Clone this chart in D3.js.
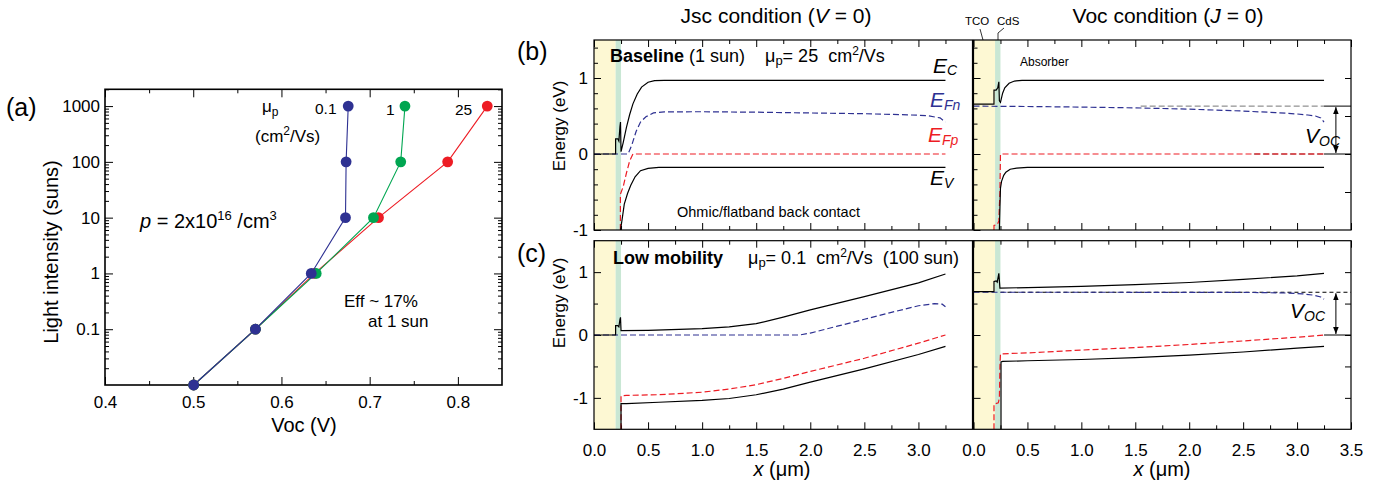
<!DOCTYPE html>
<html>
<head>
<meta charset="utf-8">
<script src="https://cdn.jsdelivr.net/npm/d3@7"></script>
<style>
body { margin: 0; background: #ffffff; }
svg { font-family: "Liberation Sans", Arial, Helvetica, sans-serif; }
text { white-space: pre; }
</style>
</head>
<body>
<svg id="fig" width="1387" height="487"></svg>
<script>
// ---- (a) Voc vs light intensity, three hole mobilities ----
var intensity = [0.01, 0.1, 1, 10, 100, 1000];
var vocMu25 = [0.5005, 0.5705, 0.6376, 0.710, 0.7884, 0.8333];
var vocMu1 = [0.5005, 0.5705, 0.6394, 0.7043, 0.7352, 0.740];
var vocMu01 = [0.5005, 0.5705, 0.6338, 0.6726, 0.6733, 0.6757];
var muNames = ['25', '1', '0.1'];
var vocTicks = [0.4, 0.5, 0.6, 0.7, 0.8];
var intensityTicks = [0.1, 1, 10, 100, 1000];

// ---- (b),(c) band diagrams: [x (um), E (eV)] ----
var layerNames = ['TCO', 'CdS'];
var layerEdges = [0, 0.2, 0.25];

// (b) baseline, 1 sun, Jsc
var ecBaseJsc = [[0, 0], [0.2, 0], [0.2, 0.2], [0.22, 0.2], [0.23, 0.17], [0.24, 0.36], [0.245, 0.42], [0.25, 0.03],
  [0.27, 0.15], [0.3, 0.35], [0.33, 0.52], [0.36, 0.66], [0.4, 0.79], [0.44, 0.88], [0.5, 0.945], [0.56, 0.965], [0.65, 0.97], [3.25, 0.97]];
var evBaseJsc = [[0.245, -1.0], [0.26, -0.86], [0.28, -0.66], [0.31, -0.52], [0.34, -0.41], [0.38, -0.3], [0.43, -0.22],
  [0.5, -0.19], [0.6, -0.177], [3.25, -0.177]];
var efnBaseJsc = [[0, 0], [0.315, 0], [0.35, 0.12], [0.39, 0.3], [0.43, 0.42], [0.48, 0.49], [0.55, 0.54], [0.65, 0.555],
  [1.0, 0.556], [1.5, 0.55], [2.0, 0.54], [2.5, 0.53], [2.9, 0.515], [3.08, 0.505], [3.2, 0.475], [3.25, 0.42]];
var efpBaseJsc = [[0.244, -1.0], [0.244, -0.53], [0.27, -0.43], [0.3, -0.25], [0.33, -0.09], [0.36, 0], [3.25, 0]];

// (b) baseline, 1 sun, Voc
var ecBaseVoc = [[0, 0.655], [0.19, 0.655], [0.19, 0.84], [0.21, 0.84], [0.225, 0.87], [0.235, 0.95], [0.24, 0.70],
  [0.25, 0.68], [0.27, 0.8], [0.29, 0.87], [0.33, 0.93], [0.38, 0.96], [0.45, 0.97], [3.25, 0.97]];
var evBaseVoc = [[0.24, -1.0], [0.245, -0.7], [0.25, -0.45], [0.26, -0.36], [0.28, -0.28], [0.3, -0.24], [0.34, -0.2],
  [0.4, -0.185], [0.5, -0.177], [3.25, -0.177]];
var efnBaseVoc = [[0, 0.63], [0.5, 0.625], [1.0, 0.617], [1.5, 0.607], [2.0, 0.59], [2.5, 0.565], [2.8, 0.545],
  [3.0, 0.527], [3.1, 0.513], [3.17, 0.5], [3.22, 0.475], [3.25, 0.42]];
var efpBaseVoc = [[0.19, -1.0], [0.19, -0.94], [0.22, -0.93], [0.235, -0.88], [0.245, -0.5], [0.25, 0], [3.25, 0]];

// (c) low mobility, 100 sun, Jsc
var ecLowJsc = [[0, 0], [0.2, 0], [0.2, 0.15], [0.22, 0.15], [0.23, 0.13], [0.24, 0.25], [0.245, 0.28], [0.25, 0.07],
  [0.5, 0.075], [1.0, 0.1], [1.25, 0.13], [1.5, 0.18], [1.75, 0.285], [2.0, 0.4], [2.5, 0.61], [3.0, 0.83], [3.25, 0.97]];
var evLowJsc = [[0.25, -1.5], [0.25, -1.09], [0.3, -1.09], [0.6, -1.07], [1.0, -1.04], [1.25, -1.01], [1.5, -0.95],
  [1.75, -0.86], [2.0, -0.75], [2.5, -0.54], [3.0, -0.31], [3.25, -0.18]];
var efnLowJsc = [[0, 0], [1.9, 0], [2.0, 0.03], [2.25, 0.14], [2.5, 0.25], [2.75, 0.36], [3.0, 0.465], [3.15, 0.5],
  [3.22, 0.49], [3.25, 0.45]];
var efpLowJsc = [[0.25, -1.5], [0.25, -0.97], [0.3, -0.96], [0.6, -0.95], [1.0, -0.91], [1.25, -0.86], [1.5, -0.79],
  [1.75, -0.69], [2.0, -0.58], [2.5, -0.37], [3.0, -0.13], [3.25, 0]];

// (c) low mobility, 100 sun, Voc
var ecLowVoc = [[0, 0.69], [0.19, 0.69], [0.19, 0.85], [0.21, 0.86], [0.22, 0.84], [0.235, 0.98], [0.245, 0.745],
  [0.5, 0.755], [1.0, 0.775], [1.5, 0.8], [2.0, 0.835], [2.5, 0.885], [3.0, 0.94], [3.25, 0.98]];
var evLowVoc = [[0.255, -1.5], [0.255, -0.43], [0.27, -0.42], [0.5, -0.41], [1.0, -0.39], [1.5, -0.36], [2.0, -0.32],
  [2.5, -0.27], [3.0, -0.21], [3.25, -0.18]];
var efnLowVoc = [[0, 0.68], [1.0, 0.68], [2.0, 0.679], [2.6, 0.676], [2.9, 0.668], [3.05, 0.655], [3.15, 0.635],
  [3.22, 0.605], [3.25, 0.57]];
var efpLowVoc = [[0.19, -1.5], [0.19, -1.1], [0.23, -1.08], [0.24, -1.0], [0.245, -0.5], [0.25, -0.3], [0.5, -0.285],
  [1.0, -0.24], [1.5, -0.2], [2.0, -0.15], [2.5, -0.095], [3.0, -0.035], [3.25, 0]];

var vocLevels = [0.63, 0.68]; // quasi-Fermi splitting at the TCO, (b) and (c)

var BLUE = '#2e3192', RED = '#ed1c24', GREEN = '#00a651';
var layerFill = { TCO: '#fdf8d3', CdS: '#c9e7d4' };

var svg = d3.select('#fig');

// Arrow heads for the Voc markers
var defs = svg.append('defs');
defs.append('marker').attr('id', 'arr')
    .attr('viewBox', '0 0 10 10').attr('refX', 10).attr('refY', 5)
    .attr('markerWidth', 7).attr('markerHeight', 7).attr('markerUnits', 'userSpaceOnUse')
    .attr('orient', 'auto-start-reverse')
  .append('path').attr('d', 'M0,1 L10,5 L0,9 Z').attr('fill', '#000');

// text with tspans: parts = [{t, i, b, size, fill, shift}]
function rich(parent, x, y, size, parts, anchor) {
    var t = parent.append('text').attr('x', x).attr('y', y)
        .attr('font-size', size).attr('text-anchor', anchor || 'start');
    var shift = 0;
    parts.forEach(function(p) {
        var s = p.shift || 0;
        var ts = t.append('tspan').text(p.t).attr('dy', s - shift);
        shift = s;
        if (p.i) ts.attr('font-style', 'italic');
        if (p.b) ts.attr('font-weight', 'bold');
        if (p.size) ts.attr('font-size', p.size);
        if (p.fill) ts.attr('fill', p.fill);
    });
    return t;
}

function styleTicks(g, size) {
    g.select('.domain').remove();
    g.selectAll('line').attr('stroke', '#000').attr('stroke-width', 1);
    g.selectAll('text').attr('font-size', size).attr('fill', '#000')
        .attr('font-family', '"Liberation Sans", Arial, sans-serif');
}

// ================= panel (a) =================
(function() {
    var left = 105, right = 502, top = 89.3, bottom = 385;
    var x = d3.scaleLinear().domain([0.4, 0.85]).range([left, right]),
        y = d3.scaleLog().domain([0.01, 2000]).range([bottom, top]);
    var g = svg.append('g');

    var xMinor = d3.range(0, 4).map(function(i) { return 0.45 + i * 0.1; });
    var yMinor = [];
    [0.01, 0.1, 1, 10, 100, 1000].forEach(function(d) {
        for (var k = 2; k <= 9; k++) if (d * k <= 2000) yMinor.push(d * k);
    });
    var fmtX = d3.format('.1f'), fmtY = d3.format('~g');

    g.append('g').attr('transform', 'translate(0,' + bottom + ')')
        .call(d3.axisBottom(x).tickValues(vocTicks).tickSize(-8).tickPadding(11).tickFormat(fmtX))
        .call(styleTicks, 17);
    g.append('g').attr('transform', 'translate(0,' + bottom + ')')
        .call(d3.axisBottom(x).tickValues(xMinor).tickSize(-4).tickFormat(''))
        .call(styleTicks, 17);
    g.append('g').attr('transform', 'translate(0,' + top + ')')
        .call(d3.axisTop(x).tickValues(xMinor).tickSize(-4).tickFormat(''))
        .call(styleTicks, 17);
    g.append('g').attr('transform', 'translate(0,' + top + ')')
        .call(d3.axisTop(x).tickValues(vocTicks).tickSize(-8).tickFormat(''))
        .call(styleTicks, 17);
    g.append('g').attr('transform', 'translate(' + left + ',0)')
        .call(d3.axisLeft(y).tickValues(intensityTicks).tickSize(-8).tickPadding(5).tickFormat(fmtY))
        .call(styleTicks, 17);
    g.append('g').attr('transform', 'translate(' + left + ',0)')
        .call(d3.axisLeft(y).tickValues(yMinor).tickSize(-4).tickFormat(''))
        .call(styleTicks, 17);
    g.append('g').attr('transform', 'translate(' + right + ',0)')
        .call(d3.axisRight(y).tickValues(intensityTicks).tickSize(-8).tickFormat(''))
        .call(styleTicks, 17);
    g.append('g').attr('transform', 'translate(' + right + ',0)')
        .call(d3.axisRight(y).tickValues(yMinor).tickSize(-4).tickFormat(''))
        .call(styleTicks, 17);

    g.append('rect').attr('x', left).attr('y', top)
        .attr('width', right - left).attr('height', bottom - top)
        .attr('fill', 'none').attr('stroke', '#000').attr('stroke-width', 1.6);

    var series = [
        { name: muNames[0], voc: vocMu25, color: RED },
        { name: muNames[1], voc: vocMu1, color: GREEN },
        { name: muNames[2], voc: vocMu01, color: BLUE }
    ];
    var line = d3.line().x(function(d) { return x(d[0]); }).y(function(d) { return y(d[1]); });
    series.forEach(function(s) {
        var pts = d3.zip(s.voc, intensity);
        g.append('path').datum(pts).attr('d', line)
            .attr('fill', 'none').attr('stroke', s.color).attr('stroke-width', 1.1);
        g.selectAll(null).data(pts).enter().append('circle')
            .attr('cx', function(d) { return x(d[0]); })
            .attr('cy', function(d) { return y(d[1]); })
            .attr('r', 5.4).attr('fill', s.color);
    });

    // series labels above the top points
    rich(g, 262, 112, 17, [{ t: '\u03bc' }, { t: 'p', size: 12, shift: 4 }]);
    rich(g, 255, 142, 17, [{ t: '(cm' }, { t: '2', size: 12, shift: -7 }, { t: '/Vs)', shift: 0 }]);
    rich(g, 315, 114, 15.5, [{ t: muNames[2] }]);
    rich(g, 386, 115, 15.5, [{ t: muNames[1] }]);
    rich(g, 455, 115, 15.5, [{ t: muNames[0] }]);

    rich(g, 140, 228, 20, [{ t: 'p', i: true }, { t: ' = 2x10' }, { t: '16', size: 13, shift: -8 },
        { t: ' /cm', shift: 0 }, { t: '3', size: 13, shift: -8 }]);
    rich(g, 344, 307, 17, [{ t: 'Eff ~ 17%' }]);
    rich(g, 368, 327, 17, [{ t: 'at 1 sun' }]);

    rich(g, 304, 432, 20, [{ t: 'Voc (V)' }], 'middle');
    rich(g, 0, 0, 20, [{ t: 'Light intensity (suns)' }], 'middle')
        .attr('transform', 'translate(58,252) rotate(-90)');
    rich(g, 6, 116, 25, [{ t: '(a)' }]);
}());

// ================= panels (b), (c) =================
function drawBand(p) {
    var x = d3.scaleLinear().domain([0, 3.5]).range([p.left, p.right]),
        y = d3.scaleLinear().domain(p.eDomain).range([p.bottom, p.top]);
    var g = svg.append('g');
    var clipId = 'clip' + Math.round(p.left) + Math.round(p.top);
    defs.append('clipPath').attr('id', clipId).append('rect')
        .attr('x', p.left).attr('y', p.top)
        .attr('width', p.right - p.left).attr('height', p.bottom - p.top);

    // TCO / CdS shading
    g.selectAll(null).data(layerNames).enter().append('rect')
        .attr('x', function(d, i) { return x(layerEdges[i]); })
        .attr('width', function(d, i) { return x(layerEdges[i + 1]) - x(layerEdges[i]); })
        .attr('y', p.top).attr('height', p.bottom - p.top)
        .attr('fill', function(d) { return layerFill[d]; });

    var fmtX = d3.format('.1f');
    var xMajor = d3.range(0, 8).map(function(i) { return i * 0.5; }),
        xMinor = d3.range(0, 7).map(function(i) { return 0.25 + i * 0.5; });
    var yMajor = [-1, 0, 1];
    var yMinor = d3.range(-40, 41).map(function(i) { return i * p.yMinorStep; })
        .filter(function(v) {
            return v > p.eDomain[0] + 1e-6 && v < p.eDomain[1] - 1e-6 && Math.abs(v - Math.round(v)) > 1e-6;
        });
    var xLabelVals = p.lastLabel ? xMajor : xMajor.slice(0, 7);

    var bx = g.append('g').attr('transform', 'translate(0,' + p.bottom + ')');
    bx.append('g').call(d3.axisBottom(x).tickValues(p.xLabels ? xLabelVals : xMajor).tickSize(-7).tickPadding(15)
        .tickFormat(p.xLabels ? fmtX : '')).call(styleTicks, 17);
    bx.append('g').call(d3.axisBottom(x).tickValues(xMinor).tickSize(-4).tickFormat('')).call(styleTicks, 17);
    var tx = g.append('g').attr('transform', 'translate(0,' + p.top + ')');
    tx.append('g').call(d3.axisTop(x).tickValues(xMajor).tickSize(-7).tickFormat('')).call(styleTicks, 17);
    tx.append('g').call(d3.axisTop(x).tickValues(xMinor).tickSize(-4).tickFormat('')).call(styleTicks, 17);

    var ly = g.append('g').attr('transform', 'translate(' + p.left + ',0)');
    ly.append('g').call(d3.axisLeft(y).tickValues(yMajor).tickSize(-7).tickPadding(6)
        .tickFormat(p.yLabels ? function(d) { return String(d); } : '')).call(styleTicks, 17);
    ly.append('g').call(d3.axisLeft(y).tickValues(yMinor).tickSize(-4).tickFormat('')).call(styleTicks, 17);
    if (p.rightTicks) {
        var rVals = d3.range(-6, 7).map(function(i) { return i * 0.5; })
            .filter(function(v) { return v > p.eDomain[0] && v < p.eDomain[1]; });
        g.append('g').attr('transform', 'translate(' + p.right + ',0)')
            .call(d3.axisRight(y).tickValues(rVals).tickSize(-6).tickFormat('')).call(styleTicks, 17);
    }

    var line = d3.line().x(function(d) { return x(d[0]); }).y(function(d) { return y(d[1]); });
    var cg = g.append('g').attr('clip-path', 'url(#' + clipId + ')');

    // reference levels for Voc
    (p.refs || []).forEach(function(r) {
        cg.append('path').datum([[r.from, r.e], [r.to, r.e]]).attr('d', line)
            .attr('fill', 'none').attr('stroke', r.color || '#000').attr('stroke-width', 1)
            .attr('stroke-dasharray', r.dash || null);
    });

    var curveStyle = {
        ec: { stroke: '#000', dash: null },
        ev: { stroke: '#000', dash: null },
        efn: { stroke: BLUE, dash: '6,3' },
        efp: { stroke: RED, dash: '6,3' }
    };
    ['efp', 'efn', 'ev', 'ec'].forEach(function(k) {
        cg.append('path').datum(p.curves[k]).attr('d', line)
            .attr('fill', 'none').attr('stroke', curveStyle[k].stroke)
            .attr('stroke-width', 1.2).attr('stroke-dasharray', curveStyle[k].dash);
    });

    if (p.arrow !== undefined) {
        g.append('line')
            .attr('x1', x(3.36)).attr('x2', x(3.36))
            .attr('y1', y(p.arrow) + 1).attr('y2', y(0) - 1)
            .attr('stroke', '#000').attr('stroke-width', 1)
            .attr('marker-start', 'url(#arr)').attr('marker-end', 'url(#arr)');
    }

    g.append('rect').attr('x', p.left).attr('y', p.top)
        .attr('width', p.right - p.left).attr('height', p.bottom - p.top)
        .attr('fill', 'none').attr('stroke', '#000').attr('stroke-width', 1.2);
    return { g: g, x: x, y: y };
}

var LX0 = 594, LX1 = 972.5, RX0 = 973.5, RX1 = 1351;
var BT = 40, BB = 230, CT = 240.7, CB = 429.3;

var bL = drawBand({ left: LX0, right: LX1, top: BT, bottom: BB, eDomain: [-1, 1.5], yMinorStep: 0.2,
    yLabels: true, xLabels: false,
    curves: { ec: ecBaseJsc, ev: evBaseJsc, efn: efnBaseJsc, efp: efpBaseJsc } });
var bR = drawBand({ left: RX0, right: RX1, top: BT, bottom: BB, eDomain: [-1, 1.5], yMinorStep: 0.2,
    yLabels: false, xLabels: false, rightTicks: true, arrow: vocLevels[0],
    refs: [
        { from: 1.55, to: 3.25, e: vocLevels[0], color: '#777', dash: '6,3' },
        { from: 3.25, to: 3.5, e: vocLevels[0] },
        { from: 2.6, to: 3.25, e: 0, color: '#7a1a1a', dash: '6,3' },
        { from: 3.25, to: 3.5, e: 0 }
    ],
    curves: { ec: ecBaseVoc, ev: evBaseVoc, efn: efnBaseVoc, efp: efpBaseVoc } });
var cL = drawBand({ left: LX0, right: LX1, top: CT, bottom: CB, eDomain: [-1.5, 1.5], yMinorStep: 0.5,
    yLabels: true, xLabels: true,
    curves: { ec: ecLowJsc, ev: evLowJsc, efn: efnLowJsc, efp: efpLowJsc } });
var cR = drawBand({ left: RX0, right: RX1, top: CT, bottom: CB, eDomain: [-1.5, 1.5], yMinorStep: 0.5,
    yLabels: false, xLabels: true, lastLabel: true, rightTicks: true, arrow: vocLevels[1],
    refs: [
        { from: 0.25, to: 3.5, e: vocLevels[1], color: '#000', dash: '4,3' },
        { from: 3.25, to: 3.5, e: 0 }
    ],
    curves: { ec: ecLowVoc, ev: evLowVoc, efn: efnLowVoc, efp: efpLowVoc } });

// ---- annotations ----
var ann = svg.append('g');
rich(ann, 776, 23, 21, [{ t: 'Jsc condition (' }, { t: 'V', i: true }, { t: ' = 0)' }], 'middle');
rich(ann, 1168, 23, 21, [{ t: 'Voc condition (' }, { t: 'J', i: true }, { t: ' = 0)' }], 'middle');
rich(ann, 517, 60, 25, [{ t: '(b)' }]);
rich(ann, 517, 262, 25, [{ t: '(c)' }]);

rich(ann, 0, 0, 17, [{ t: 'Energy (eV)' }], 'middle').attr('transform', 'translate(565,126) rotate(-90)');
rich(ann, 0, 0, 17, [{ t: 'Energy (eV)' }], 'middle').attr('transform', 'translate(565,303) rotate(-90)');
rich(ann, 782, 476, 20, [{ t: 'x', i: true }, { t: ' (\u03bcm)' }], 'middle');
rich(ann, 1162, 476, 20, [{ t: 'x', i: true }, { t: ' (\u03bcm)' }], 'middle');

rich(ann, 610, 62, 18, [{ t: 'Baseline', b: true }, { t: ' (1 sun)' }]);
rich(ann, 765, 62, 18, [{ t: '\u03bc' }, { t: 'p', size: 13, shift: 3 }, { t: '= 25  cm', shift: 0 },
    { t: '2', size: 12, shift: -7 }, { t: '/Vs', shift: 0 }]);
rich(ann, 613, 264, 18, [{ t: 'Low mobility', b: true }]);
rich(ann, 748, 264, 18, [{ t: '\u03bc' }, { t: 'p', size: 13, shift: 3 }, { t: '= 0.1  cm', shift: 0 },
    { t: '2', size: 12, shift: -7 }, { t: '/Vs  (100 sun)', shift: 0 }]);
rich(ann, 677, 217, 14.5, [{ t: 'Ohmic/flatband back contact' }]);

rich(ann, 933, 73, 21, [{ t: 'E', i: true }, { t: 'C', i: true, size: 14, shift: 2 }]);
rich(ann, 930, 107, 21, [{ t: 'E', i: true }, { t: 'Fn', i: true, size: 14, shift: 3 }]).attr('fill', BLUE);
rich(ann, 928, 142, 21, [{ t: 'E', i: true }, { t: 'Fp', i: true, size: 14, shift: 3 }]).attr('fill', RED);
rich(ann, 930, 185, 21, [{ t: 'E', i: true }, { t: 'V', i: true, size: 14, shift: 3 }]);

rich(ann, 1020, 66, 12, [{ t: 'Absorber' }]);
rich(ann, 965, 25, 11.5, [{ t: layerNames[0] }]);
rich(ann, 997, 25, 11.5, [{ t: layerNames[1] }]);
ann.append('path').attr('d', 'M980,29 L983,' + BT).attr('stroke', '#000').attr('fill', 'none').attr('stroke-width', 0.8);
ann.append('path').attr('d', 'M1004,28 L998,33 L998,' + BT).attr('stroke', '#000').attr('fill', 'none').attr('stroke-width', 0.8);

rich(ann, 1305, 143, 21, [{ t: 'V', i: true }, { t: 'OC', i: true, size: 14, shift: 3 }]);
rich(ann, 1290, 318, 21, [{ t: 'V', i: true }, { t: 'OC', i: true, size: 14, shift: 3 }]);
</script>
</body>
</html>
